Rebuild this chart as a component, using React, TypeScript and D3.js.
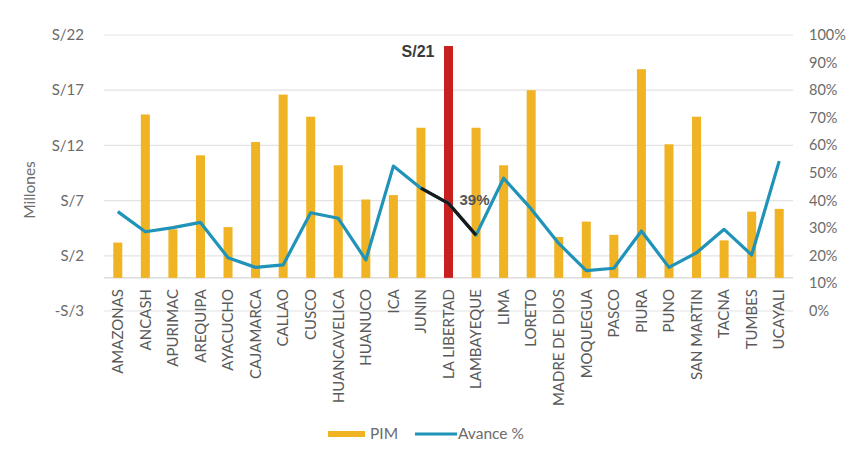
import React from "react";
import * as d3 from "d3";

const categories = ["AMAZONAS","ANCASH","APURIMAC","AREQUIPA","AYACUCHO","CAJAMARCA","CALLAO","CUSCO","HUANCAVELICA","HUANUCO","ICA","JUNIN","LA LIBERTAD","LAMBAYEQUE","LIMA","LORETO","MADRE DE DIOS","MOQUEGUA","PASCO","PIURA","PUNO","SAN MARTIN","TACNA","TUMBES","UCAYALI"];
const pim = [3.2,14.8,4.4,11.1,4.6,12.3,16.6,14.6,10.2,7.1,7.5,13.6,21.0,13.6,10.2,17.0,3.7,5.1,3.9,18.9,12.1,14.6,3.4,6.0,6.25];
const avance = [36,28.7,30.2,32.1,19.3,15.8,16.7,35.6,33.6,18.5,52.5,44.5,39,27.5,48.1,37,24.5,14.6,15.5,29,15.8,21.1,29.6,20.3,54.3];
const leftTicks = [-3,2,7,12,17,22];
const rightTicks = [0,10,20,30,40,50,60,70,80,90,100];
const highlight = "LA LIBERTAD";
const highlightLabel = "S/21";
const highlightPct = "39%";

const W = 847, H = 456;
const M = { left: 104, right: 793, top: 35, bottom: 311 };
const FONT = "Lato, 'Open Sans', sans-serif";

export default function App() {
  const x = d3.scaleBand<string>().domain(categories).range([M.left, M.right]).paddingInner(0).paddingOuter(0);
  const yL = d3.scaleLinear().domain([-3, 22]).range([M.bottom, M.top]);
  const yR = d3.scaleLinear().domain([0, 100]).range([M.bottom, M.top]);
  const cx = (c: string) => (x(c) as number) + x.bandwidth() / 2;
  const barW = 9;
  const line = d3.line<number>().x((_, i) => cx(categories[i])).y((d) => yR(d));
  const hi = categories.indexOf(highlight);
  const segIdx = [hi - 1, hi, hi + 1];
  const blackLine = d3.line<number>().x((i) => cx(categories[i])).y((i) => yR(avance[i]));

  return (
    <svg width={W} height={H} style={{ position: "absolute", left: 0, top: 0, background: "#fff" }} fontFamily={FONT}>
      {leftTicks.map((t) => (
        <g key={"l" + t}>
          <line x1={M.left} x2={M.right} y1={yL(t)} y2={yL(t)} stroke="#e3e3e3" strokeWidth={1.2} />
          <text x={84} y={yL(t)} dy="0.35em" textAnchor="end" fontSize={15} fill="#6b6b6b">
            {t < 0 ? `-S/${Math.abs(t)}` : `S/${t}`}
          </text>
        </g>
      ))}
      <line x1={M.left} x2={M.right} y1={yL(0)} y2={yL(0)} stroke="#d6d6d6" strokeWidth={1.2} />
      {rightTicks.map((t) => (
        <text key={"r" + t} x={809} y={yR(t)} dy="0.35em" textAnchor="start" fontSize={14.5} fill="#6b6b6b">
          {t}%
        </text>
      ))}
      <text transform={`translate(30,${190}) rotate(-90)`} dy="0.35em" textAnchor="middle" fontSize={15.5} fill="#6b6b6b">Millones</text>
      {categories.map((c, i) => (
        <rect key={c} x={cx(c) - barW / 2} width={barW} y={yL(pim[i])} height={yL(0) - yL(pim[i])}
          fill={c === highlight ? "#c8201e" : "#f0b323"} />
      ))}
      <path d={line(avance) || ""} fill="none" stroke="#1f93b8" strokeWidth={3.2} strokeLinejoin="round" />
      <path d={blackLine(segIdx) || ""} fill="none" stroke="#1a1a1a" strokeWidth={3.2} strokeLinejoin="round" />
      <text x={cx(highlight) - 14} y={yL(pim[hi]) + 11} textAnchor="end" fontSize={16} fontWeight="bold" fill="#3a3a3a" fontFamily="'Liberation Sans', Arial, sans-serif">{highlightLabel}</text>
      <text x={cx(highlight) + 11} y={yR(avance[hi]) + 2} textAnchor="start" fontSize={15} fontWeight="bold" fill="#555" fontFamily="'Liberation Sans', Arial, sans-serif">{highlightPct}</text>
      {categories.map((c) => (
        <text key={"x" + c} transform={`translate(${cx(c)},${289}) rotate(-90)`} dy="0.35em" textAnchor="end" fontSize={15} fill="#5a5a5a">{c}</text>
      ))}
      <g>
        <rect x={328} y={431} width={37} height={6} fill="#f0b323" />
        <text x={370} y={434} dy="0.35em" fontSize={15.5} fill="#6b6b6b">PIM</text>
        <line x1={415} x2={457} y1={434} y2={434} stroke="#1f93b8" strokeWidth={3} />
        <text x={458} y={434} dy="0.35em" fontSize={15.5} fill="#6b6b6b">Avance %</text>
      </g>
    </svg>
  );
}
